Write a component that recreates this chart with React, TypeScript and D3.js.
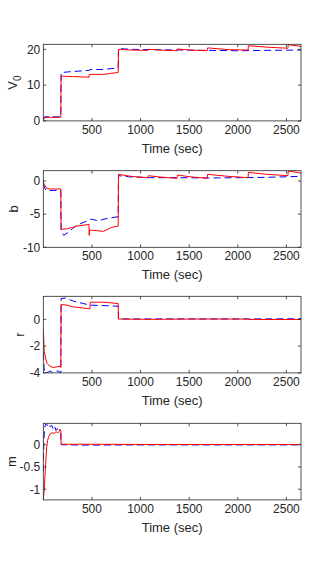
import * as d3 from 'd3';

type Pt = [number, number];

// shared time axis
const timeDomain: [number, number] = [0, 2650];
const timeTicks = [500, 1000, 1500, 2000, 2500];

// V0 panel
const v0Blue: Pt[] = [
  [0, 0.5], [10, 1.1], [30, 1.2], [180, 1.1], [183, 13.5], [300, 13.8], [470, 14.1], [473, 14.3],
  [620, 14.4], [770, 14.8], [773, 20.2], [900, 20.0], [1100, 19.9], [1400, 19.8], [1700, 19.7],
  [2000, 19.6], [2300, 19.7], [2650, 19.8],
];
const v0Red: Pt[] = [
  [0, 0], [8, 0.8], [30, 1.0], [180, 1.0], [183, 12.5], [300, 12.4], [470, 12.2], [473, 13.0],
  [620, 13.0], [700, 13.3], [770, 13.5], [773, 20.0], [900, 19.8], [1075, 19.7], [1080, 20.0],
  [1200, 19.8], [1375, 19.6], [1380, 20.1], [1500, 19.8], [1685, 19.6], [1690, 20.4], [1900, 19.9],
  [2105, 19.8], [2110, 21.0], [2300, 20.6], [2515, 20.3], [2520, 21.3], [2650, 20.8],
];

// b panel
const bBlue: Pt[] = [
  [0, -0.4], [10, -0.9], [30, -1.45], [180, -1.4], [183, -7.5], [210, -8.2], [260, -7.7],
  [300, -7.2], [343, -6.7], [420, -6.2], [497, -5.75], [565, -6.0], [668, -5.6], [770, -5.4],
  [773, 0.8], [900, 0.6], [1100, 0.5], [1400, 0.5], [1700, 0.45], [2000, 0.5], [2300, 0.55],
  [2650, 0.7],
];
const bRed: Pt[] = [
  [0, 0], [8, -0.5], [35, -1.1], [60, -1.2], [180, -1.2], [183, -7.3], [250, -7.2], [300, -7.0],
  [350, -6.8], [470, -6.55], [472, -8.2], [476, -7.4], [560, -7.5], [620, -7.6], [700, -7.0],
  [770, -6.8], [773, 1.0], [900, 0.7], [1075, 0.5], [1080, 0.8], [1200, 0.6], [1375, 0.4],
  [1380, 0.9], [1500, 0.65], [1685, 0.4], [1690, 1.0], [1900, 0.7], [2105, 0.5], [2110, 1.3],
  [2300, 1.0], [2515, 0.8], [2520, 1.5], [2650, 1.2],
];

// r panel
const rBlue: Pt[] = [
  [0, -2.5], [8, -3.6], [15, -4.0], [50, -3.95], [70, -3.85], [90, -3.95], [120, -3.9],
  [150, -3.85], [180, -4.0], [183, 1.55], [230, 1.6], [308, 1.36], [400, 1.2], [479, 1.06],
  [600, 1.03], [770, 0.98], [773, 0.03], [1200, 0.03], [1700, 0.03], [2110, 0.03], [2650, 0.04],
];
const rRed: Pt[] = [
  [0, -0.8], [10, -2.4], [35, -3.26], [68, -3.5], [103, -3.6], [140, -3.55], [171, -3.5],
  [180, -3.6], [183, 1.1], [230, 1.08], [308, 0.93], [400, 0.86], [479, 0.78], [482, 1.28],
  [620, 1.28], [770, 1.18], [773, 0.02], [1100, 0.0], [1500, 0.02], [2105, 0.02], [2110, -0.01],
  [2650, -0.01],
];

// m panel
const mBlue: Pt[] = [
  [0, -0.6], [5, 0.0], [12, 0.35], [20, 0.44], [30, 0.47], [45, 0.42], [55, 0.46], [70, 0.4],
  [85, 0.44], [100, 0.36], [115, 0.42], [130, 0.32], [145, 0.36], [160, 0.3], [175, 0.27],
  [180, 0.25], [183, 0.0], [400, -0.01], [1000, -0.005], [2650, -0.005],
];
const mRed: Pt[] = [
  [0, -1.24], [10, -1.0], [20, -0.6], [28, -0.3], [35, -0.05], [45, 0.1], [55, 0.18], [70, 0.24],
  [90, 0.27], [110, 0.25], [130, 0.29], [150, 0.27], [165, 0.3], [172, 0.35], [180, 0.3],
  [183, 0.01], [300, 0.01], [500, 0.01], [1000, 0.005], [2650, 0.005],
];

const panels = [
  { name: 'V', sub: '0', yDomain: [0, 21.4], yTicks: [0, 10, 20], blue: v0Blue, red: v0Red, top: 44.3, labelX: 17 },
  { name: 'b', sub: '', yDomain: [-10, 1.55], yTicks: [-10, -5, 0], blue: bBlue, red: bRed, top: 170.7, labelX: 18 },
  { name: 'r', sub: '', yDomain: [-4, 1.72], yTicks: [-4, -2, 0], blue: rBlue, red: rRed, top: 296.3, labelX: 24 },
  { name: 'm', sub: '', yDomain: [-1.24, 0.48], yTicks: [-1, -0.5, 0], blue: mBlue, red: mRed, top: 423.3, labelX: 16 },
];

const W = 332;
const H = 577;
const left = 43.3;
const right = 301;
const plotH = 76.6;
const ink = '#262626';
const font = '"Liberation Sans", Arial, Helvetica, sans-serif';
const tickLen = 3;

function Panel({ p }: { p: (typeof panels)[number] }) {
  const x = d3.scaleLinear().domain(timeDomain).range([left, right]);
  const y = d3.scaleLinear().domain(p.yDomain).range([p.top + plotH, p.top]);
  const line = d3.line<Pt>().x(d => x(d[0])).y(d => y(d[1]));
  const bottom = p.top + plotH;
  const midY = p.top + plotH / 2;
  const clipId = `clip-${p.name}`;
  return (
    <g>
      <defs>
        <clipPath id={clipId}>
          <rect x={left} y={p.top} width={right - left} height={plotH} />
        </clipPath>
      </defs>
      <rect x={left} y={p.top} width={right - left} height={plotH} fill="#fff" />
      <g clipPath={`url(#${clipId})`}>
        <path d={line(p.blue) || ''} fill="none" stroke="#0000ff" strokeWidth={1} strokeDasharray="7,4" />
        <path d={line(p.red) || ''} fill="none" stroke="#ff0000" strokeWidth={1} />
      </g>
      <rect x={left} y={p.top} width={right - left} height={plotH} fill="none" stroke={ink} strokeWidth={0.8} />
      {timeTicks.map(t => (
        <g key={t}>
          <line x1={x(t)} x2={x(t)} y1={bottom} y2={bottom - tickLen} stroke={ink} strokeWidth={0.8} />
          <line x1={x(t)} x2={x(t)} y1={p.top} y2={p.top + tickLen} stroke={ink} strokeWidth={0.8} />
          <text x={x(t)} y={bottom + 13} textAnchor="middle" fontSize={12} fill={ink} fontFamily={font}>
            {t}
          </text>
        </g>
      ))}
      {p.yTicks.map(v => (
        <g key={v}>
          <line x1={left} x2={left + tickLen} y1={y(v)} y2={y(v)} stroke={ink} strokeWidth={0.8} />
          <line x1={right} x2={right - tickLen} y1={y(v)} y2={y(v)} stroke={ink} strokeWidth={0.8} />
          <text x={left - 3} y={y(v) + 4.3} textAnchor="end" fontSize={12} fill={ink} fontFamily={font}>
            {String(v)}
          </text>
        </g>
      ))}
      <text x={(left + right) / 2} y={bottom + 32} textAnchor="middle" fontSize={13} fill={ink} fontFamily={font}>
        Time (sec)
      </text>
      <text
        transform={`translate(${p.labelX},${midY}) rotate(-90)`}
        textAnchor="middle"
        fontSize={13}
        fill={ink}
        fontFamily={font}
      >
        {p.name}
        {p.sub && (
          <tspan fontSize={10} dy={4}>
            {p.sub}
          </tspan>
        )}
      </text>
    </g>
  );
}

export default function App() {
  return (
    <svg
      width={W}
      height={H}
      viewBox={`0 0 ${W} ${H}`}
      style={{ position: 'absolute', left: 0, top: 0, background: '#fff' }}
    >
      <rect width={W} height={H} fill="#fff" />
      {panels.map(p => (
        <Panel key={p.name} p={p} />
      ))}
    </svg>
  );
}
